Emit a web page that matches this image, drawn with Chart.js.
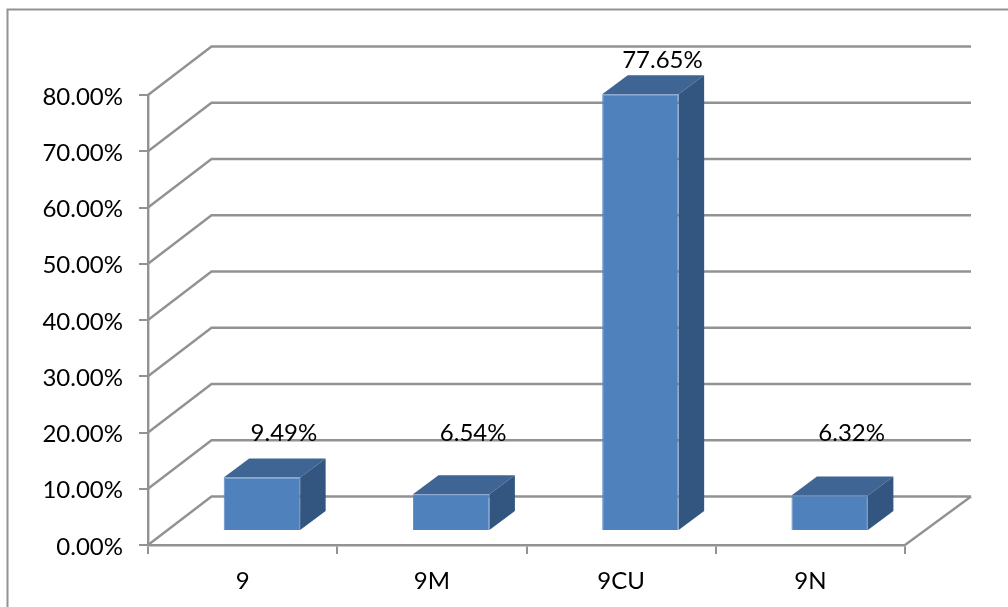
<!DOCTYPE html>
<html>
<head>
<meta charset="utf-8">
<style>html,body{margin:0;padding:0;background:#fff}canvas{display:block}</style>
<script src="https://cdn.jsdelivr.net/npm/chart.js@4"></script>
</head>
<body>
<canvas id="c" width="1008" height="607"></canvas>
<script>
const categories = ['9', '9M', '9CU', '9N'];
const shares = [9.49, 6.54, 77.65, 6.32];
const axisMax = 80;
const axisStep = 10;

const FONT = 'Lato, sans-serif';
const FONT_SIZE = 24;
const LINE = '#929292';
const WALL = { dx: 63.5, dy: -48.5, rightDx: 66 }; // depth of the back wall
const BAR_DEPTH = { dx: 25.5, dy: -19 };           // depth of each column
const BAR_SHIFT = { dx: 19.3, dy: -14 };           // columns stand mid-way into the floor

const pct = v => v.toFixed(2) + '%';
const line = (ctx, pts) => {
  ctx.beginPath();
  pts.forEach((p, i) => i ? ctx.lineTo(p[0], p[1]) : ctx.moveTo(p[0], p[1]));
  ctx.stroke();
};
const poly = (ctx, pts, fill) => {
  ctx.beginPath();
  pts.forEach((p, i) => i ? ctx.lineTo(p[0], p[1]) : ctx.moveTo(p[0], p[1]));
  ctx.closePath();
  ctx.fillStyle = fill;
  ctx.fill();
};

const perspective = {
  id: 'perspective',
  beforeDraw(chart) {
    // outer frame, open on the right and at the bottom
    const { ctx, width, height, chartArea: a, scales: { y } } = chart;
    ctx.save();
    ctx.strokeStyle = LINE;
    ctx.lineWidth = 2;
    line(ctx, [[7.5, height], [7.5, 9.5], [width, 9.5]]);
    // wall grid: a slanted run from the axis, then along the back wall
    ctx.lineWidth = 2.4;
    y.ticks.forEach(t => {
      const py = y.getPixelForValue(t.value);
      line(ctx, [[a.left, py], [a.left + WALL.dx, py + WALL.dy], [a.right + WALL.rightDx, py + WALL.dy]]);
    });
    // right edge of the floor
    line(ctx, [[a.right, a.bottom], [a.right + WALL.rightDx, a.bottom + WALL.dy]]);
    ctx.restore();
  },
  beforeDatasetDraw(chart, args) {
    const ctx = chart.ctx;
    ctx.save();
    ctx.translate(BAR_SHIFT.dx, BAR_SHIFT.dy);
    chart.getDatasetMeta(args.index).data.forEach(bar => {
      const l = bar.x - bar.width / 2, r = bar.x + bar.width / 2;
      const { dx, dy } = BAR_DEPTH;
      poly(ctx, [[l, bar.y], [l + dx, bar.y + dy], [r + dx, bar.y + dy], [r, bar.y]], '#3e6593');
      poly(ctx, [[r, bar.y], [r + dx, bar.y + dy], [r + dx, bar.base + dy], [r, bar.base]], '#325680');
    });
  },
  afterDatasetDraw(chart) {
    chart.ctx.restore();
  },
  afterDatasetsDraw(chart) {
    const { ctx, scales: { y } } = chart;
    ctx.save();
    ctx.font = FONT_SIZE + 'px ' + FONT;
    ctx.fillStyle = '#000';
    ctx.textAlign = 'center';
    ctx.textBaseline = 'middle';
    chart.getDatasetMeta(0).data.forEach((bar, i) => {
      // short columns share one label height; tall ones sit above their top
      const level = Math.max(20, shares[i] + 8.75);
      ctx.fillText(pct(shares[i]), bar.x + BAR_SHIFT.dx + 22, y.getPixelForValue(level) + 1);
    });
    ctx.restore();
  }
};

new Chart(document.getElementById('c'), {
  type: 'bar',
  data: {
    labels: categories,
    datasets: [{
      data: shares,
      backgroundColor: '#4f81bd',
      borderColor: '#5f8cc6',
      borderWidth: 1,
      barPercentage: 0.404,
      categoryPercentage: 1
    }]
  },
  options: {
    responsive: false,
    animation: false,
    layout: { padding: { top: 95, right: 103, left: 0, bottom: 0 } },
    plugins: { legend: { display: false }, tooltip: { enabled: false } },
    scales: {
      x: {
        afterFit: s => { s.height = 62; },
        grid: { drawOnChartArea: false, color: LINE, lineWidth: 2, tickLength: 9 },
        border: { color: LINE, width: 2.4 },
        ticks: { color: '#000', font: { family: FONT, size: FONT_SIZE }, padding: 13, maxRotation: 0 }
      },
      y: {
        min: 0,
        max: axisMax,
        afterFit: s => { s.width = 148; },
        grid: { drawOnChartArea: false, color: LINE, lineWidth: 2, tickLength: 9 },
        border: { color: LINE, width: 2.4 },
        ticks: { stepSize: axisStep, color: '#000', font: { family: FONT, size: FONT_SIZE }, padding: 16, labelOffset: 2, callback: v => pct(v) }
      }
    }
  },
  plugins: [perspective]
});
</script>
</body>
</html>
